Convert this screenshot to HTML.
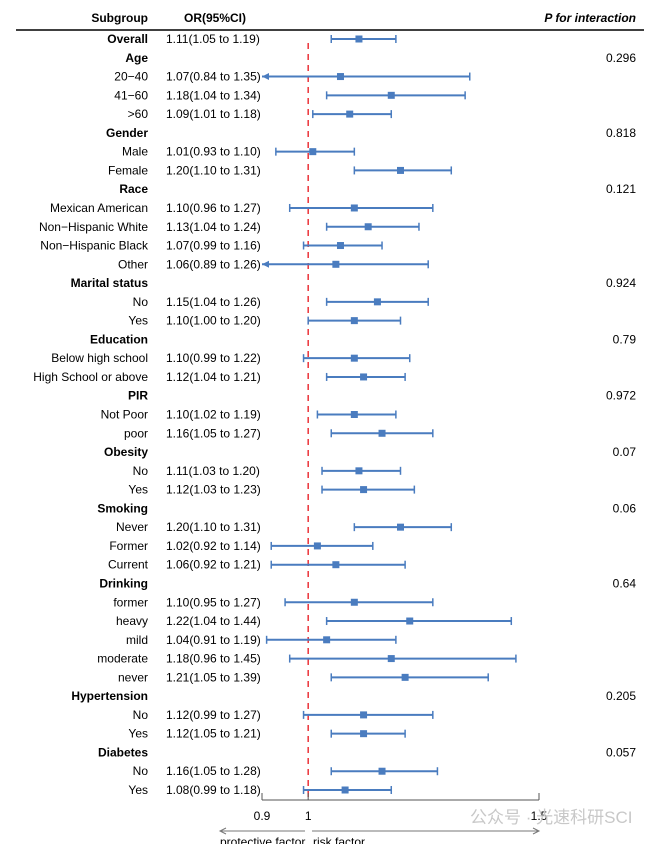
<!DOCTYPE html>
<html><head><meta charset="utf-8"><style>
body{margin:0;background:#fff;}
svg{display:block;font-family:"Liberation Sans",Arial,sans-serif;}
</style></head><body>
<svg id="c" width="669" height="844"></svg>
<script>
const labels=["Overall","Age","20−40","41−60",">60","Gender","Male","Female","Race","Mexican American","Non−Hispanic White","Non−Hispanic Black","Other","Marital status","No","Yes","Education","Below high school","High School or above","PIR","Not Poor","poor","Obesity","No","Yes","Smoking","Never","Former","Current","Drinking","former","heavy","mild","moderate","never","Hypertension","No","Yes","Diabetes","No","Yes"];
const headers=[1,1,0,0,0,1,0,0,1,0,0,0,0,1,0,0,1,0,0,1,0,0,1,0,0,1,0,0,0,1,0,0,0,0,0,1,0,0,1,0,0];
const orVals=[1.11,null,1.07,1.18,1.09,null,1.01,1.20,null,1.10,1.13,1.07,1.06,null,1.15,1.10,null,1.10,1.12,null,1.10,1.16,null,1.11,1.12,null,1.20,1.02,1.06,null,1.10,1.22,1.04,1.18,1.21,null,1.12,1.12,null,1.16,1.08];
const lowVals=[1.05,null,0.84,1.04,1.01,null,0.93,1.10,null,0.96,1.04,0.99,0.89,null,1.04,1.00,null,0.99,1.04,null,1.02,1.05,null,1.03,1.03,null,1.10,0.92,0.92,null,0.95,1.04,0.91,0.96,1.05,null,0.99,1.05,null,1.05,0.99];
const highVals=[1.19,null,1.35,1.34,1.18,null,1.10,1.31,null,1.27,1.24,1.16,1.26,null,1.26,1.20,null,1.22,1.21,null,1.19,1.27,null,1.20,1.23,null,1.31,1.14,1.21,null,1.27,1.44,1.19,1.45,1.39,null,1.27,1.21,null,1.28,1.18];
const pVals=["","0.296","","","","0.818","","","0.121","","","","","0.924","","","0.79","","","0.972","","","0.07","","","0.06","","","","0.64","","","","","","0.205","","","0.057","",""];
const ticks=[0.9,1,1.5];
const tickLabels=["0.9","1","1.5"];

const svg=document.getElementById('c');const NS='http://www.w3.org/2000/svg';
function el(t,a,txt,p){const e=document.createElementNS(NS,t);for(const k in a)e.setAttribute(k,a[k]);if(txt!=null)e.textContent=txt;(p||svg).appendChild(e);return e;}
const xMin=0.9,xMax=1.5,x0=262,x1=539;
const X=v=>x0+(v-xMin)/(xMax-xMin)*(x1-x0);
const Y=i=>39+i*18.775;
const blue="#4a7cbf";
let e;
e=el('text',{x:148,y:22,'text-anchor':'end','font-size':12,'font-weight':'bold'},'Subgroup');

e=el('text',{x:184,y:22,'font-size':12,'font-weight':'bold'},'OR(95%CI)');

e=el('text',{x:636,y:22,'text-anchor':'end','font-size':12,'font-weight':'bold','font-style':'italic'},'P for interaction');

e=el('line',{x1:16,x2:644,y1:30,y2:30,stroke:'#000','stroke-width':1.5});

e=el('line',{x1:X(1),x2:X(1),y1:43,y2:800,stroke:'#e8141b','stroke-width':1.3,'stroke-dasharray':'6,5'});

labels.forEach((l,i)=>{
 const y=Y(i);
 const g=el('g',{});
 
 
 el('text',{x:148,y:y+4,'text-anchor':'end','font-size':12,'font-weight':headers[i]?'bold':'normal'},l,g);
 if(pVals[i])el('text',{x:636,y:y+4,'text-anchor':'end','font-size':12},pVals[i],g);
 if(orVals[i]!=null){
  el('text',{x:166,y:y+4,'font-size':12},orVals[i].toFixed(2)+'('+lowVals[i].toFixed(2)+' to '+highVals[i].toFixed(2)+')',g);
  const lo=Math.max(lowVals[i],xMin),hi=Math.min(highVals[i],xMax);
  el('line',{x1:X(lo),x2:X(hi),y1:y,y2:y,stroke:blue,'stroke-width':2},g);
  if(lowVals[i]<xMin) el('polygon',{points:`${X(xMin)},${y} ${X(xMin)+7},${y-3.5} ${X(xMin)+7},${y+3.5}`,fill:blue},g);
  else el('line',{x1:X(lo),x2:X(lo),y1:y-4,y2:y+4,stroke:blue,'stroke-width':1.5},g);
  el('line',{x1:X(hi),x2:X(hi),y1:y-4,y2:y+4,stroke:blue,'stroke-width':1.5},g);
  el('rect',{x:X(orVals[i])-3.5,y:y-3.5,width:7,height:7,fill:blue},g);
 }
});
const ax=el('g',{});
el('line',{x1:X(xMin),x2:X(xMax),y1:800,y2:800,stroke:'#555','stroke-width':1},ax);
ticks.forEach((t,k)=>{el('line',{x1:X(t),x2:X(t),y1:793,y2:800,stroke:'#555'},ax);
 el('text',{x:X(t),y:820,'text-anchor':'middle','font-size':12},tickLabels[k],ax);});
const ar=el('g',{});
el('line',{x1:221,x2:305,y1:831,y2:831,stroke:'#777'},ar);
el('polyline',{points:'226,828 220,831 226,834',fill:'none',stroke:'#777'},ar);
el('line',{x1:312,x2:538,y1:831,y2:831,stroke:'#777'},ar);
el('polyline',{points:'533,828 539,831 533,834',fill:'none',stroke:'#777'},ar);
el('text',{x:220,y:846,'font-size':12},'protective factor',ar);
el('text',{x:313,y:846,'font-size':12},'risk factor',ar);
e=el('text',{x:470,y:823,'font-size':17,fill:'#c8c8c8','font-family':'"Liberation Sans","Noto Sans CJK SC",sans-serif'},'公众号 · 光速科研SCI');

</script>
</body></html>
